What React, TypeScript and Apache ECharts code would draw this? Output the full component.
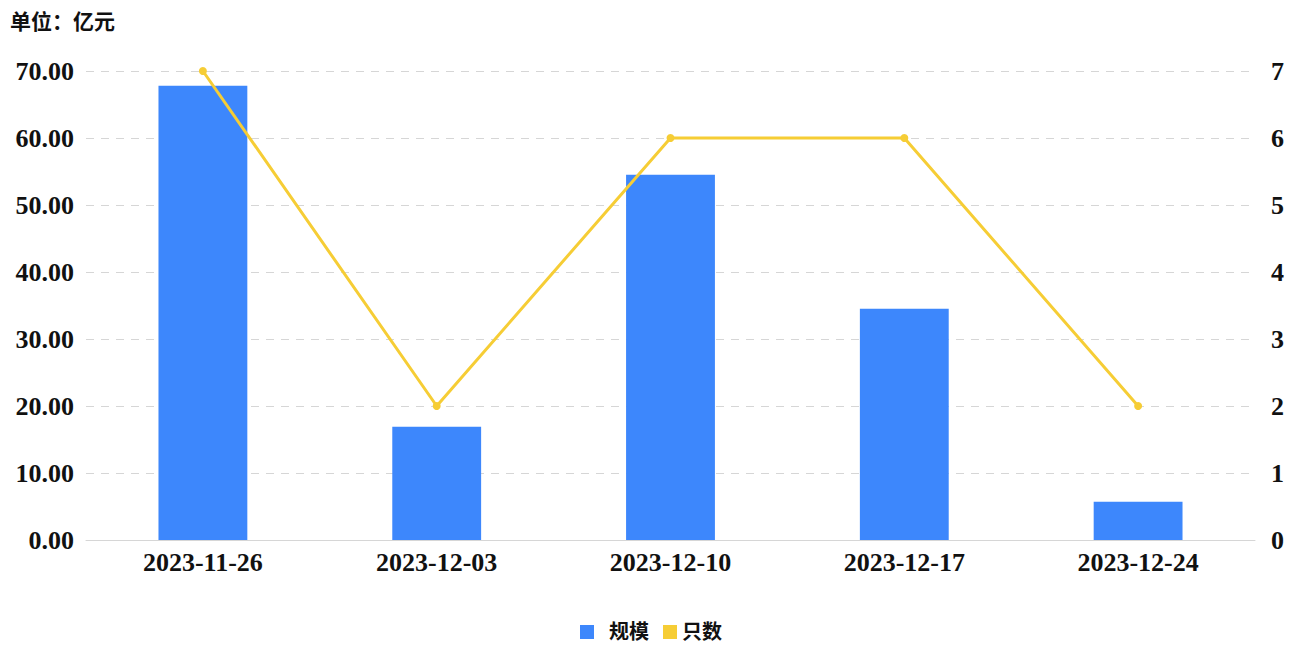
import * as echarts from "echarts";
import { useEffect, useRef } from "react";

const dates = ["2023-11-26", "2023-12-03", "2023-12-10", "2023-12-17", "2023-12-24"];
const scale = [67.8, 16.9, 54.5, 34.5, 5.7];
const counts = [7, 2, 6, 6, 2];

const LATIN = "'Liberation Serif', 'Noto Sans CJK SC', serif";
const BLUE = "#3d87fc";
const YELLOW = "#f6cd35";

export default function App() {
  const ref = useRef<HTMLDivElement>(null);

  useEffect(() => {
    if (!ref.current) return;
    const chart = echarts.init(ref.current, undefined, { renderer: "svg" });
    chart.setOption({
      animation: false,
      title: {
        text: "单位：亿元",
        left: 2,
        top: 3,
        padding: 0,
        textStyle: { fontFamily: LATIN, fontSize: 21, fontWeight: "bold", color: "#111" },
      },
      legend: {
        bottom: 0,
        left: "center",
        itemWidth: 14,
        itemHeight: 14,
        itemGap: 14,
        formatter: (name: string) => (name === "规模" ? "  " + name : name),
        textStyle: { fontFamily: LATIN, fontSize: 20, fontWeight: "bold", color: "#111" },
        data: [
          { name: "规模", icon: "rect" },
          { name: "只数", icon: "rect" },
        ],
      },
      grid: { left: 78, right: 39, top: 63, bottom: 107, containLabel: false },
      xAxis: {
        type: "category",
        data: dates,
        axisTick: { show: false },
        axisLine: { lineStyle: { color: "#d6d6d6" } },
        axisLabel: {
          fontFamily: LATIN,
          fontSize: 26,
          fontWeight: "bold",
          color: "#111",
          margin: 9,
        },
      },
      yAxis: [
        {
          type: "value",
          min: 0,
          max: 70,
          interval: 10,
          axisLabel: {
            fontFamily: LATIN,
            fontSize: 26,
            fontWeight: "bold",
            color: "#111",
            margin: 12,
            formatter: (v: number) => v.toFixed(2),
          },
          splitLine: { lineStyle: { color: "#d6d6d6", type: [8, 7] } },
        },
        {
          type: "value",
          min: 0,
          max: 7,
          interval: 1,
          axisLabel: {
            fontFamily: LATIN,
            fontSize: 26,
            fontWeight: "bold",
            color: "#111",
            margin: 16,
          },
          splitLine: { show: false },
        },
      ],
      series: [
        {
          name: "规模",
          type: "bar",
          data: scale,
          barWidth: "38%",
          itemStyle: { color: BLUE },
        },
        {
          name: "只数",
          type: "line",
          yAxisIndex: 1,
          data: counts,
          symbol: "circle",
          symbolSize: 8,
          lineStyle: { color: YELLOW, width: 3 },
          itemStyle: { color: YELLOW },
        },
      ],
    });
    return () => chart.dispose();
  }, []);

  return <div ref={ref} style={{ width: 1286, height: 639 }} />;
}
